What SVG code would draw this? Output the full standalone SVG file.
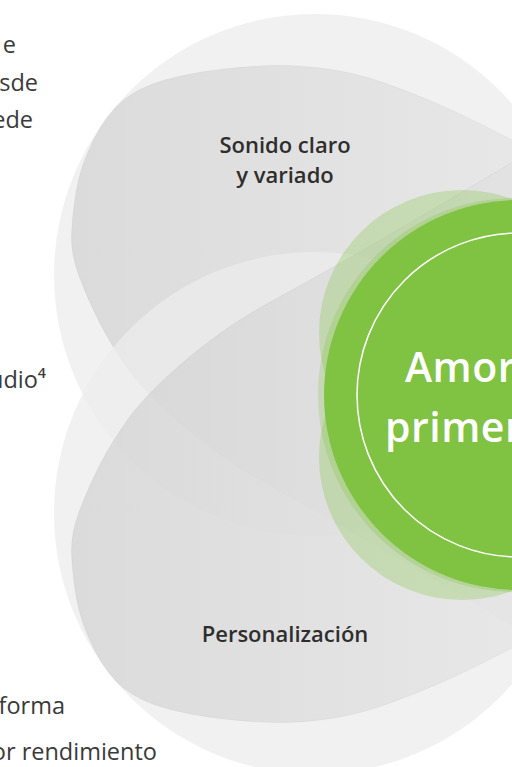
<svg xmlns="http://www.w3.org/2000/svg" width="512" height="767" viewBox="0 0 512 767">
<defs>
<linearGradient id="petalGrad" gradientUnits="userSpaceOnUse" x1="60" y1="0" x2="520" y2="0">
<stop offset="0" stop-color="#c4c4c4"/>
<stop offset="1" stop-color="#dedede"/>
</linearGradient>
<path id="petal" d="M600,185 L556,162.5 Q512,140 485.5,126.5 Q459,113 432,101.5 Q405,90 380,81.5 Q355,73 327.5,69 Q300,65 275,65.5 Q250,66 220,69.5 Q190,73 165,80 Q140,87 123.5,100 Q107,113 93.5,140 Q80,167 76,192 Q72,217 71.5,236 Q71,255 79.5,277.5 Q88,300 100,323.5 Q112,347 129.5,371 Q147,395 187,429 Q227,463 280,491.5 Q333,520 422.5,572.5 Q512,625 556,652.5 L600,680 L660,430 Z"/>
</defs>
<style>
.halo{fill:#ececec;fill-opacity:0.75}
.petal{fill:url(#petalGrad);fill-opacity:0.5;stroke:#000;stroke-opacity:0.04;stroke-width:1}
.label{font-family:"Open Sans","Liberation Sans",sans-serif;font-weight:600;font-size:22px;fill:#2e2e2e;text-anchor:middle}
.body{font-family:"Open Sans","Liberation Sans",sans-serif;font-size:23.5px;fill:#3a3a3a;text-anchor:end}
.center{font-family:"Open Sans","Liberation Sans",sans-serif;font-weight:600;font-size:41px;fill:#fff;letter-spacing:0.5px}
.g{fill:#80c242}
</style>
<rect width="512" height="767" fill="#fff"/>
<g id="left-text">
<text class="body" x="16" y="53">e</text>
<text class="body" x="38" y="90.5">sde</text>
<text class="body" x="33" y="128">ede</text>
<text class="body" x="46" y="388">udio⁴</text>
<text class="body" x="65" y="714">forma</text>
<text class="body" x="157" y="760">or rendimiento</text>
</g>
<g id="node-sonido">
<circle class="halo" cx="315" cy="275" r="261"/>
<use href="#petal" class="petal"/>
<text class="label" x="285" y="153">Sonido claro</text>
<text class="label" x="285" y="183">y variado</text>
</g>
<g id="node-personalizacion">
<circle class="halo" cx="315" cy="513" r="261"/>
<use href="#petal" class="petal" transform="matrix(1 0 0 -1 0 788)"/>
<text class="label" x="285" y="642">Personalización</text>
</g>
<g id="connectors"></g>
<g id="node-center">
<circle class="g" cx="515" cy="395" r="197" fill-opacity="0.25"/>
<circle class="g" cx="462" cy="333" r="143" fill-opacity="0.3"/>
<circle class="g" cx="462" cy="457" r="143" fill-opacity="0.3"/>
<circle class="g" cx="519" cy="395" r="195"/>
<circle cx="519" cy="395" r="162" fill="none" stroke="#fff" stroke-width="1.5"/>
<text class="center" x="405" y="382">Amor</text>
<text class="center" x="385" y="442">primer</text>
</g>
</svg>
